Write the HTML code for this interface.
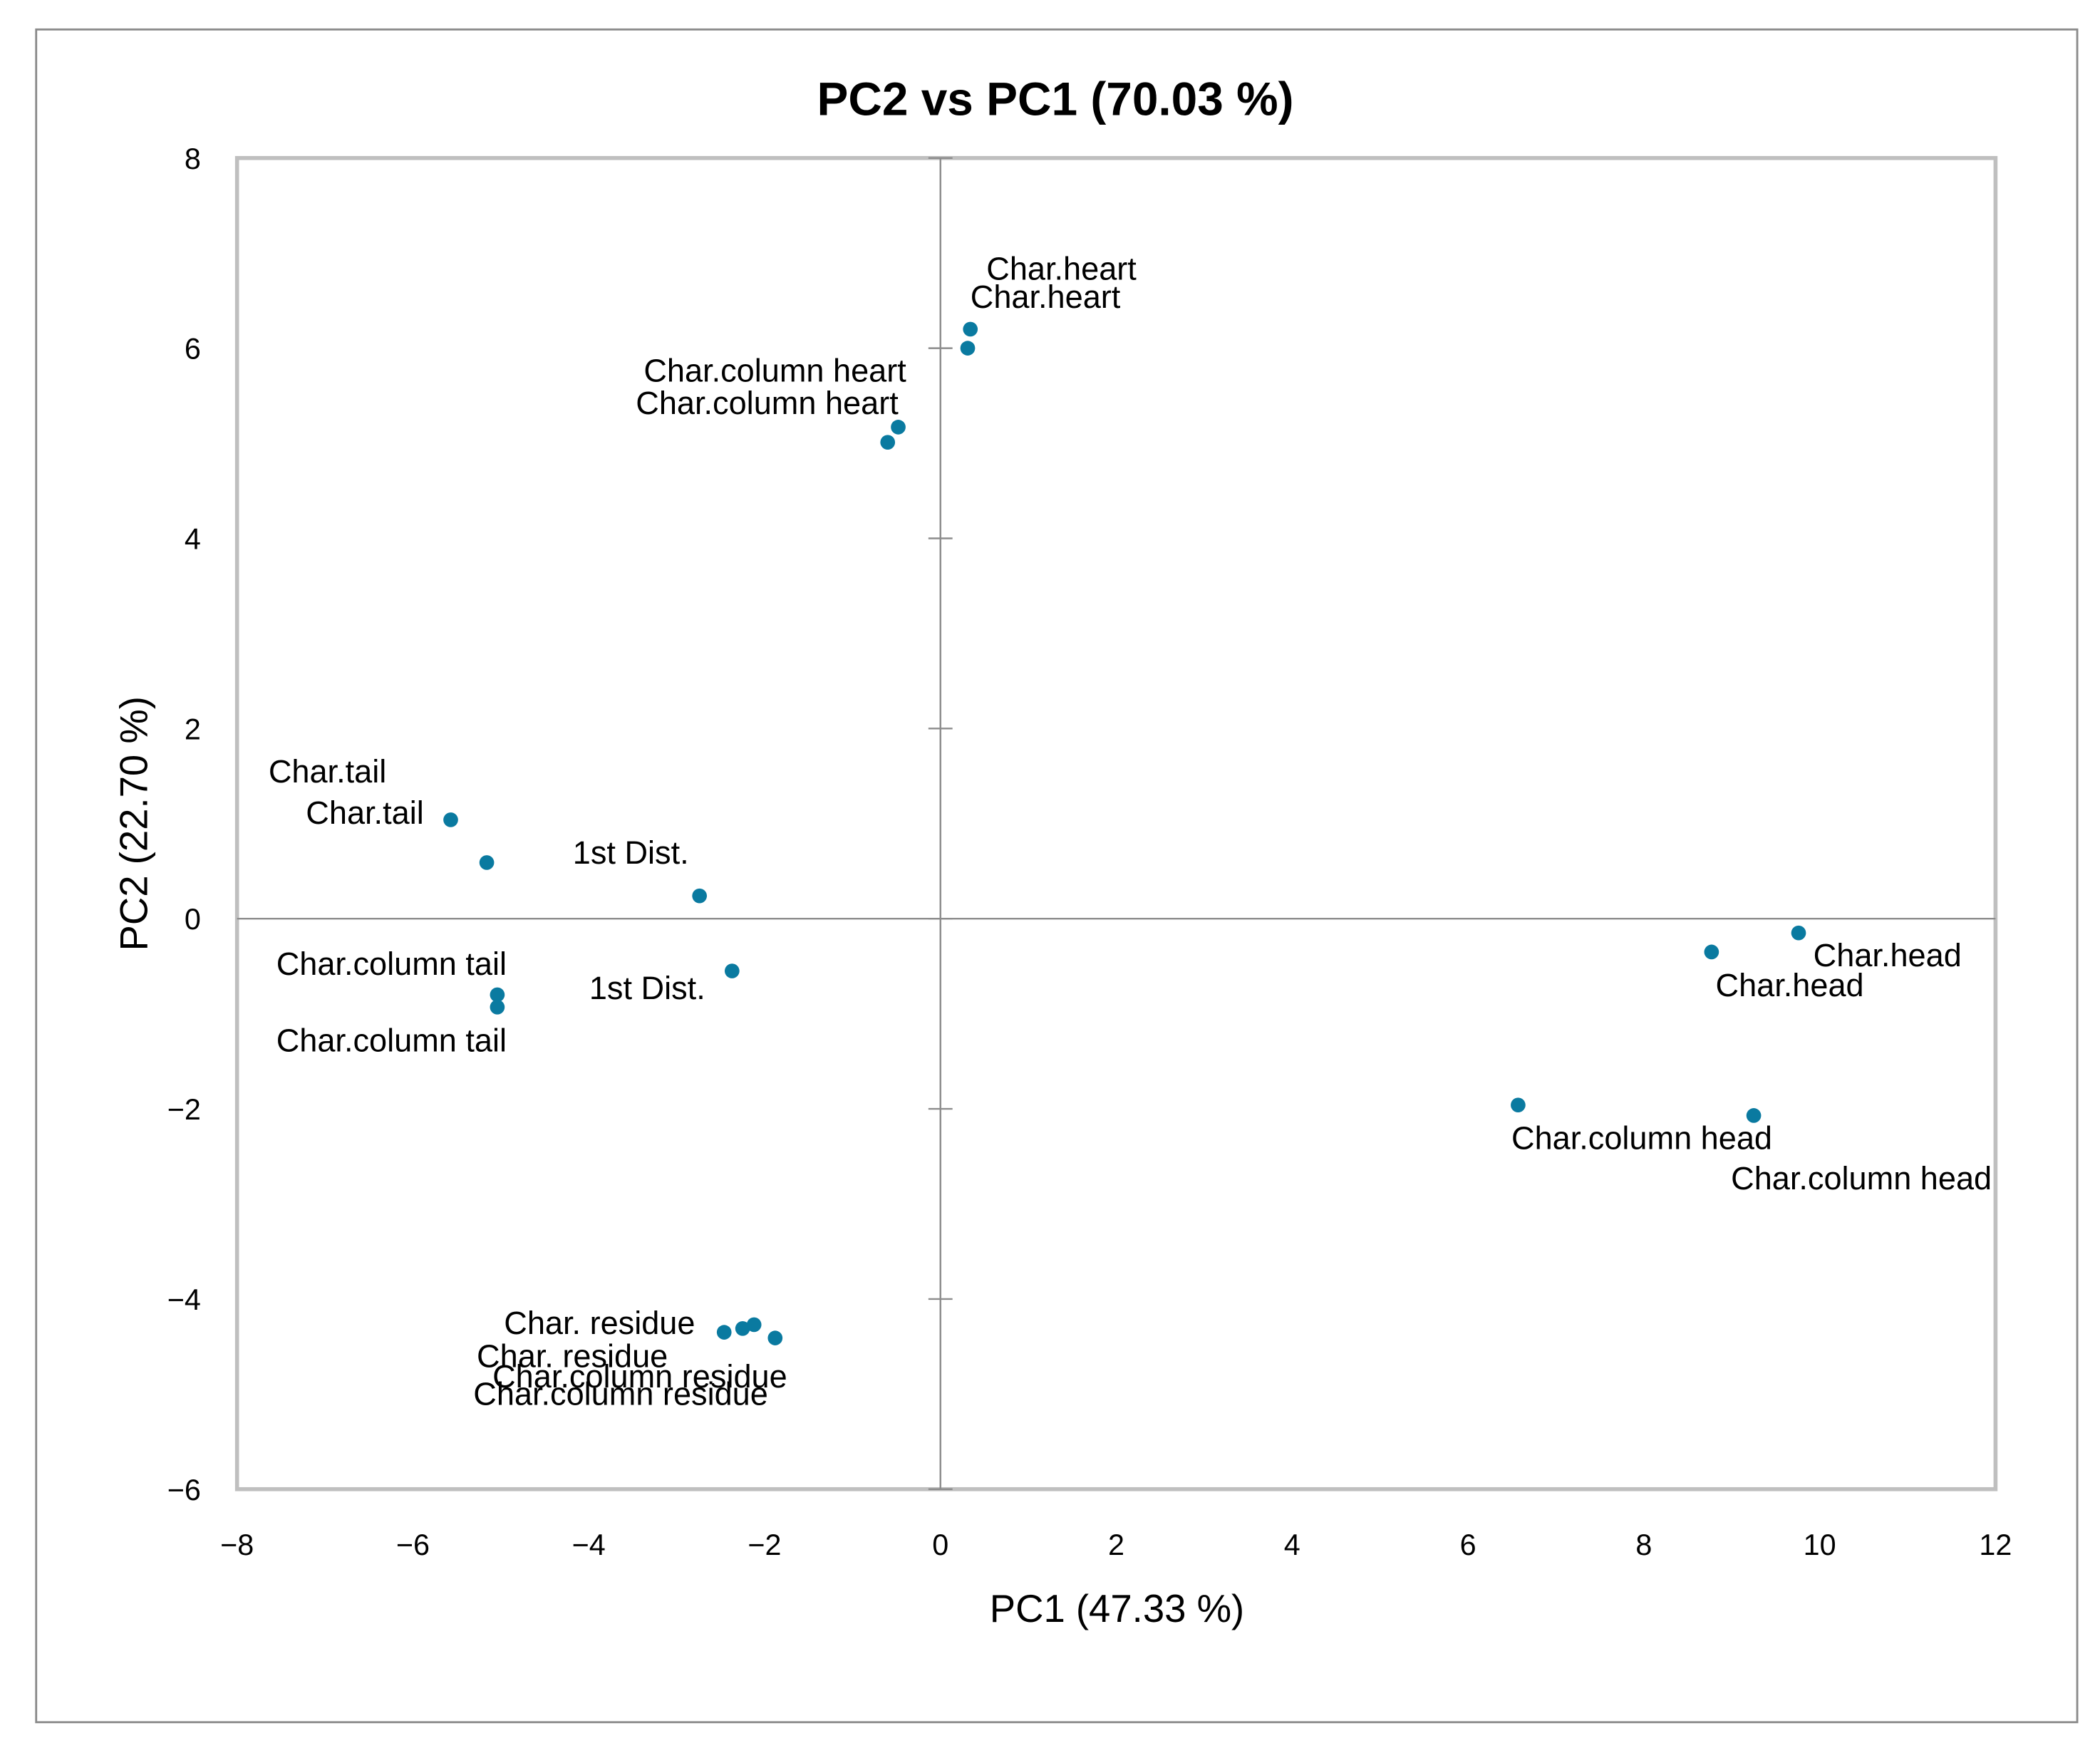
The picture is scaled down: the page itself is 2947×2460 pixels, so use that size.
<!DOCTYPE html>
<html><head><meta charset="utf-8"><style>
html,body{margin:0;padding:0;background:#fff}
svg{display:block}
text{font-family:"Liberation Sans",sans-serif;fill:#000}
</style></head><body>
<svg id="chart" width="2947" height="2460" viewBox="0 0 1568 1309" preserveAspectRatio="none" xmlns="http://www.w3.org/2000/svg">
<rect x="27" y="22" width="1524" height="1264" fill="#fff" stroke="#8a8a8a" stroke-width="1.5"/>
<text x="788" y="86" text-anchor="middle" font-size="35" font-weight="bold">PC2 vs PC1 (70.03 %)</text>
<g id="axes"></g>
<g id="marks"></g>
<text x="834" y="1211" text-anchor="middle" font-size="29">PC1 (47.33 %)</text>
<text transform="translate(110,615) rotate(-90)" text-anchor="middle" font-size="29">PC2 (22.70 %)</text>
</svg>
<script>
const xTicks=[-8,-6,-4,-2,0,2,4,6,8,10,12];
const yTicks=[-6,-4,-2,0,2,4,6,8];
const labels=["Char.heart","Char.heart","Char.column heart","Char.column heart","Char.tail","Char.tail","1st Dist.","1st Dist.","Char.column tail","Char.column tail","Char. residue","Char. residue","Char.column residue","Char.column residue","Char.head","Char.head","Char.column head","Char.column head"];
const pc1=[0.34,0.31,-0.48,-0.60,-5.57,-5.16,-2.74,-2.37,-5.04,-5.04,-2.12,-2.46,-1.88,-2.25,9.76,8.77,6.57,9.25];
const pc2=[6.20,6.00,5.17,5.01,1.04,0.59,0.24,-0.55,-0.80,-0.93,-4.27,-4.35,-4.41,-4.31,-0.15,-0.35,-1.96,-2.07];
// label placement offsets (layout, not data)
const lay=[[12,-37,"start"],[2,-30,"start"],[6,-34,"end"],[8,-21,"end"],[-48,-28,"end"],[-47,-29,"end"],[-8,-24,"end"],[-20,21,"end"],[7,-15,"end"],[7,33,"end"],[-44,7,"end"],[-42,26,"end"],[9,37,"end"],[19,57,"end"],[11,25,"start"],[3,33,"start"],[-5,33,"start"],[-17,55,"start"]];
const L=177,R=1490,T=118,B=1112,xmin=-8,xmax=12,ymin=-6,ymax=8;
const X=v=>L+(v-xmin)/(xmax-xmin)*(R-L);
const Y=v=>B-(v-ymin)/(ymax-ymin)*(B-T);
const NS="http://www.w3.org/2000/svg";
const axes=document.getElementById('axes'),marks=document.getElementById('marks');
function mk(tag,attrs,parent){const e=document.createElementNS(NS,tag);for(const k in attrs)e.setAttribute(k,attrs[k]);parent.appendChild(e);return e;}
let e=mk('rect',{x:L,y:T,width:R-L,height:B-T,fill:'none',stroke:'#bfbfbf','stroke-width':3},axes);


e=mk('line',{x1:X(0),x2:X(0),y1:T,y2:B,stroke:'#8c8c8c','stroke-width':1.3},axes);


e=mk('line',{x1:L,x2:R,y1:Y(0),y2:Y(0),stroke:'#8c8c8c','stroke-width':1.3},axes);


xTicks.forEach(t=>{
  const tx=mk('text',{x:X(t),y:1161,'text-anchor':'middle','font-size':22},axes);
  tx.textContent=(t<0?'\u2212'+(-t):String(t));
  
  
});
yTicks.forEach(t=>{
  const tm=mk('line',{x1:X(0)-9,x2:X(0)+9,y1:Y(t),y2:Y(t),stroke:'#8c8c8c','stroke-width':1.3},axes);
  
  
  const tx=mk('text',{x:150,y:Y(t)+8,'text-anchor':'end','font-size':22},axes);
  tx.textContent=(t<0?'\u2212'+(-t):String(t));
  
  
});
labels.forEach((lab,i)=>{
  const cx=X(pc1[i]),cy=Y(pc2[i]);
  const c=mk('circle',{cx:cx,cy:cy,r:5.5,fill:'#0a7aa0'},marks);
  
  
  const t=mk('text',{x:cx+lay[i][0],y:cy+lay[i][1],'text-anchor':lay[i][2],'font-size':24},marks);
  t.textContent=lab;
  
  
});
</script>
</body></html>
